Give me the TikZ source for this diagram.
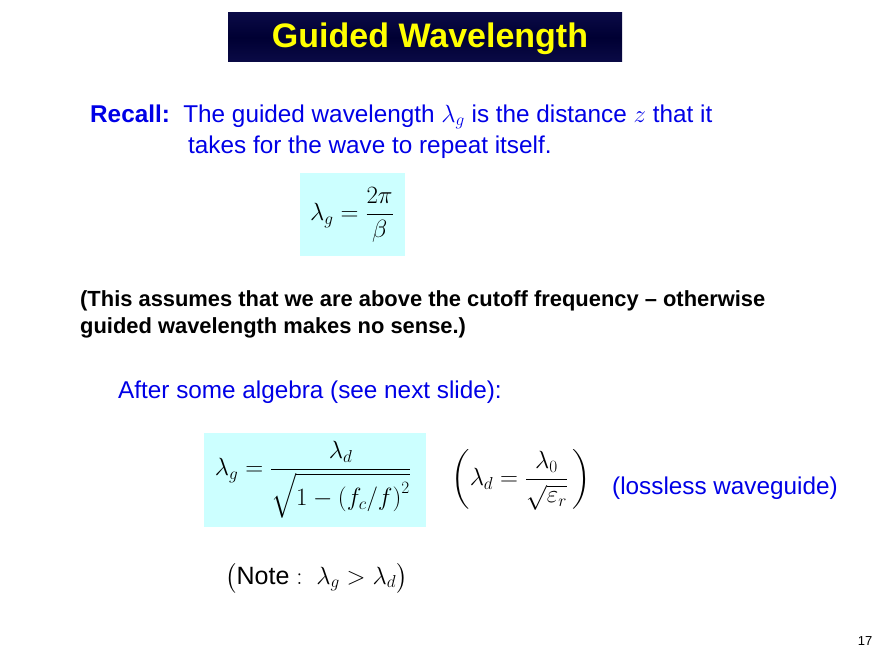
\documentclass[tikz,border=0pt]{standalone}
\usepackage{fontspec}
\setmainfont{Liberation Sans}
\usepackage{amsmath}
\definecolor{slideblue}{RGB}{0,0,230}
\definecolor{boxcyan}{RGB}{204,255,255}
\definecolor{titlenavy}{RGB}{10,10,70}
\definecolor{titleyellow}{RGB}{255,255,0}
\tikzset{
    bodytext/.style={anchor=west, inner sep=0pt, text=slideblue, font=\fontsize{24.3}{29}\selectfont},
    notetext/.style={anchor=west, inner sep=0pt, font=\bfseries\fontsize{21.9}{27}\selectfont, align=left},
    mathtext/.style={inner sep=0pt, font=\fontsize{25}{30}\selectfont}
}
\begin{document}
\begin{tikzpicture}[x=1pt, y=-1pt]
    \useasboundingbox (0,0) rectangle (880,660);

    % title
    \shade[top color=titlenavy, bottom color=titlenavy, middle color=black!80!blue] (228,13) rectangle (622,62);
    \node (title) at (430,39) [text=titleyellow, font=\bfseries\fontsize{34}{37}\selectfont] {Guided Wavelength};

    % recall
    \node (recall) at (90,117) [bodytext] {\textbf{Recall:}\ \ The guided wavelength $\lambda_g$ is the distance $z$ that it};
    \node (recall2) at (188,147) [bodytext] {takes for the wave to repeat itself.};

    \fill[boxcyan] (300,173) rectangle (405,256);
    \node (eqone) at (352,215) [mathtext] {$\displaystyle \lambda_g = \frac{2\pi}{\beta}$};

    % assumption
    \node (assume) at (80,314) [notetext] {(This assumes that we are above the cutoff frequency -- otherwise\\guided wavelength makes no sense.)};

    \node (algebra) at (118,392) [bodytext] {After some algebra (see next slide):};

    \fill[boxcyan] (204,433) rectangle (426,527);
    \node (eqtwo) at (313,480) [mathtext] {$\displaystyle \lambda_g = \frac{\lambda_d}{\sqrt{1-\left(f_c/f\right)^2}}$};
    \node (eqthree) at (521,480) [mathtext] {$\displaystyle \left(\lambda_d = \frac{\lambda_0}{\sqrt{\varepsilon_r}}\,\right)$};
    \node (lossless) at (612,488) [bodytext] {(lossless waveguide)};

    \node (note) at (225,578) [mathtext, anchor=west] {$\bigl(\text{Note}: \ \lambda_g > \lambda_d\bigr)$};

    \node (page) at (865,641) [font=\fontsize{13}{15}\selectfont] {17};
\end{tikzpicture}
\end{document}
